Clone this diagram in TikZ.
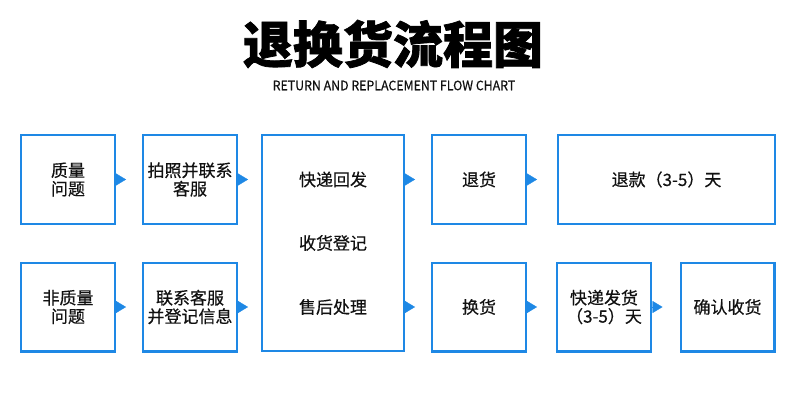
\documentclass[tikz,border=0pt]{standalone}
\usepackage{fontspec}
\usepackage{tikz}
\usetikzlibrary{arrows.meta}
\newfontfamily\cjk[FakeBold=0.5]{Noto Sans CJK SC}
\newfontfamily\cjkhead[BoldFeatures={FakeBold=1.5}]{Noto Sans CJK SC}
\definecolor{FlowBlue}{RGB}{30,136,229}
\definecolor{ink}{RGB}{17,17,17}
\newcommand{\boxfont}{\cjk\fontsize{17}{18.5}\selectfont}

\begin{document}
\begin{tikzpicture}[x=1pt,y=-1pt,
  box/.style={draw=FlowBlue,line width=2.4pt,inner sep=0pt,align=center,
    text=ink,font=\boxfont,minimum width=93.6pt,minimum height=88.6pt},
  txt/.style={inner sep=0pt,align=center,text=ink,font=\boxfont},
  tip/.style={draw=FlowBlue,fill=FlowBlue,line width=0.3pt,
    -{Triangle[length=10pt,width=12pt]},shorten >=#1}]
  \useasboundingbox (0,0) rectangle (790,393);
  % heading
  \node[font=\cjkhead\bfseries\fontsize{50}{50}\selectfont] (title) at (393,44) {退换货流程图};
  \node[font=\cjk\fontsize{13}{13}\selectfont,text=ink] (sub) at (394,85.5)
    {\scalebox{0.95}[1]{RETURN AND REPLACEMENT FLOW CHART}};
  % left columns
  \node[box] (q1) at (68,179.5) {质量\\问题};
  \node[box] (q2) at (190,179.5) {拍照并联系\\客服};
  \node[box] (q3) at (68,307) {非质量\\问题};
  \node[box] (q4) at (190,307) {联系客服\\并登记信息};
  % the tall middle block
  \node[box,minimum width=141.6pt,minimum height=215.6pt] (mid) at (333,243) {};
  \node[txt] (mid1) at (mid |- q1) {快递回发};
  \node[txt] (mid2) at (mid) {收货登记};
  \node[txt] (mid3) at (mid |- q3) {售后处理};
  % right side
  \node[box] (ret) at (479,179.5) {退货};
  \node[box,minimum width=216.6pt] (refund) at (666.5,179.5) {退款（3-5）天};
  \node[box] (swap) at (479,307) {换货};
  \node[box] (ship) at (604,307) {快递发货\\（3-5）天};
  \node[box] (recv) at (727.5,307) {确认收货};
  % triangles
  \draw[tip=16pt] (q1) -- (q2);
  \draw[tip=16pt] (q3) -- (q4);
  \draw[tip=13pt] (q2.east) -- (q2.east -| mid.west);
  \draw[tip=13pt] (q4.east) -- (q4.east -| mid.west);
  \draw[tip=16pt] (mid.east |- ret) -- (ret);
  \draw[tip=16pt] (mid.east |- swap) -- (swap);
  \draw[tip=20pt] (ret) -- (refund);
  \draw[tip=19pt] (swap) -- (ship);
  \draw[tip=17pt] (ship) -- (recv);
\end{tikzpicture}
\end{document}
